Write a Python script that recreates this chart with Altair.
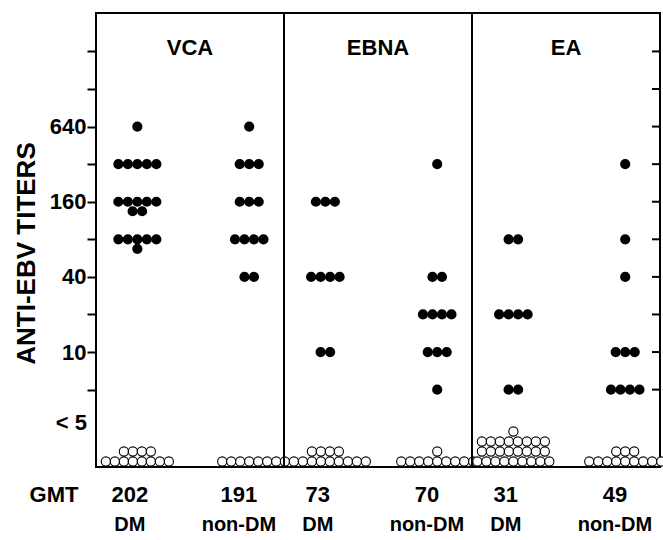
import math
import altair as alt
import pandas as pd

# ---------------- data ----------------
assays = ["VCA", "EBNA", "EA"]
groups = ["DM", "non-DM"]
gmt = [202, 191, 73, 70, 31, 49]
titer_levels = [640, 320, 160, 80, 40, 20, 10, 5]
# number of patients at each titer level (same order as titer_levels)
vca_dm = [1, 5, 7, 6, 0, 0, 0, 0]
vca_non = [1, 3, 3, 4, 2, 0, 0, 0]
ebna_dm = [0, 0, 3, 0, 4, 0, 2, 0]
ebna_non = [0, 1, 0, 0, 2, 4, 3, 1]
ea_dm = [0, 0, 0, 2, 0, 4, 0, 2]
ea_non = [0, 1, 0, 1, 1, 0, 3, 4]
# patients below detection (< 5), counted per stacked row, bottom row first
vca_dm_neg = [8, 4]
vca_non_neg = [7]
ebna_dm_neg = [10, 4]
ebna_non_neg = [9, 1]
ea_dm_neg = [9, 8, 8, 1]
ea_non_neg = [9, 3]
y_ticks = [5, 10, 20, 40, 80, 160, 320, 640, 1280, 2560]
y_labels = [10, 40, 160, 640]

# ---------------- layout ----------------
W, H = 564, 454
Y_DOMAIN = [1.2, 5200]
PPD = H / math.log2(Y_DOMAIN[1] / Y_DOMAIN[0])  # pixels per doubling
X_DOMAIN = [0, 6]
UPX = (X_DOMAIN[1] - X_DOMAIN[0]) / W            # x data units per pixel
DOT_CENTERS = [0.44, 1.63]
LABEL_CENTERS = [0.36, 1.52]
FILLED_STEP = 9.5 * UPX
OPEN_STEP = 9.0 * UPX
ROW_CAP = 5
FONT = "Liberation Sans"

series_pos = [vca_dm, vca_non, ebna_dm, ebna_non, ea_dm, ea_non]
series_neg = [vca_dm_neg, vca_non_neg, ebna_dm_neg, ebna_non_neg, ea_dm_neg, ea_non_neg]

filled = []
for g, counts in enumerate(series_pos):
    center = (g // 2) * 2 + DOT_CENTERS[g % 2]
    for level, n in zip(titer_levels, counts):
        r = 0
        while n > 0:
            k = min(ROW_CAP, n)
            for i in range(k):
                filled.append({
                    "x": center + (i - (k - 1) / 2) * FILLED_STEP,
                    "y": level * 2 ** (-r * 9.5 / PPD),
                    "titer": level,
                })
            n -= k
            r += 1

opened = []
base = Y_DOMAIN[0] * 2 ** (5.5 / PPD)
for g, rows in enumerate(series_neg):
    center = (g // 2) * 2 + DOT_CENTERS[g % 2]
    for r, k in enumerate(rows):
        for i in range(k):
            opened.append({
                "x": center + (i - (k - 1) / 2) * OPEN_STEP,
                "y": base * 2 ** (r * 10 / PPD),
            })

filled_df = pd.DataFrame(filled)
open_df = pd.DataFrame(opened)

xs = alt.Scale(domain=X_DOMAIN, nice=False, zero=False)
ys = alt.Scale(type="log", base=2, domain=Y_DOMAIN, nice=False)

label_test = " || ".join(f"datum.value == {v}" for v in y_labels)

filled_layer = alt.Chart(filled_df).mark_circle(size=104, color="black", opacity=1).encode(
    x=alt.X("x:Q", scale=xs, axis=None),
    y=alt.Y("y:Q", scale=ys, axis=alt.Axis(
        values=y_ticks,
        labelExpr=f"({label_test}) ? format(datum.value, 'd') : ''",
        title="ANTI-EBV TITERS",
        titleX=-70, titleY=240, titleAngle=270, titleBaseline="middle",
        titleFontSize=26, titleFont=FONT, titleFontWeight="bold", titleColor="black",
        labelFont=FONT, labelFontSize=22, labelFontWeight="bold", labelColor="black",
        labelPadding=1, tickSize=9, tickWidth=2, tickColor="black",
        domain=False, grid=False,
    )),
)

open_layer = alt.Chart(open_df).mark_circle(
    size=84, fill="white", stroke="black", strokeWidth=1.1, opacity=1, fillOpacity=1
).encode(
    x=alt.X("x:Q", scale=xs, axis=None),
    y=alt.Y("y:Q", scale=ys),
)

dividers = alt.Chart(pd.DataFrame({"x": [2, 4]})).mark_rule(color="black", strokeWidth=2).encode(
    x=alt.X("x:Q", scale=xs, axis=None),
    y=alt.value(0), y2=alt.value(H),
)

right_ticks = alt.Chart(pd.DataFrame({"y": y_ticks})).mark_rule(color="black", strokeWidth=2).encode(
    x=alt.value(W - 8), x2=alt.value(W),
    y=alt.Y("y:Q", scale=ys),
)

titles_df = pd.DataFrame({"assay": assays, "x": [1 + 2 * i for i in range(len(assays))]})
panel_titles = alt.Chart(titles_df).mark_text(
    font=FONT, fontSize=22, fontWeight="bold", color="black", baseline="middle"
).encode(
    x=alt.X("x:Q", scale=xs, axis=None), y=alt.value(35), text="assay:N",
)

lab_df = pd.DataFrame({
    "x": [(g // 2) * 2 + LABEL_CENTERS[g % 2] for g in range(6)],
    "gmt": [str(v) for v in gmt],
    "group": [groups[g % 2] for g in range(6)],
})
gmt_text = alt.Chart(lab_df).mark_text(
    font=FONT, fontSize=22, fontWeight="bold", color="black", baseline="middle"
).encode(x=alt.X("x:Q", scale=xs, axis=None), y=alt.value(H + 28), text="gmt:N")

group_text = alt.Chart(lab_df).mark_text(
    font=FONT, fontSize=20, fontWeight="bold", color="black", baseline="middle"
).encode(x=alt.X("x:Q", scale=xs, axis=None), y=alt.value(H + 58), text="group:N")

gmt_head = alt.Chart(pd.DataFrame({"t": ["GMT"]})).mark_text(
    font=FONT, fontSize=22, fontWeight="bold", color="black", baseline="middle"
).encode(x=alt.value(-42), y=alt.value(H + 28), text="t:N")

lt5 = alt.Chart(pd.DataFrame({"t": ["< 5"], "y": [2.7]})).mark_text(
    font=FONT, fontSize=22, fontWeight="bold", color="black", baseline="middle", align="right"
).encode(x=alt.value(-9), y=alt.Y("y:Q", scale=ys), text="t:N")

chart = alt.layer(
    filled_layer, open_layer, dividers, right_ticks, panel_titles,
    gmt_text, group_text, gmt_head, lt5,
).properties(
    width=W, height=H,
    padding={"left": 96, "top": 13, "right": 3, "bottom": 73},
    autosize=alt.AutoSizeParams(type="none"),
    background="white",
).configure_view(stroke="black", strokeWidth=2)

chart.save("out.html", embed_options={"renderer": "svg", "actions": False})
